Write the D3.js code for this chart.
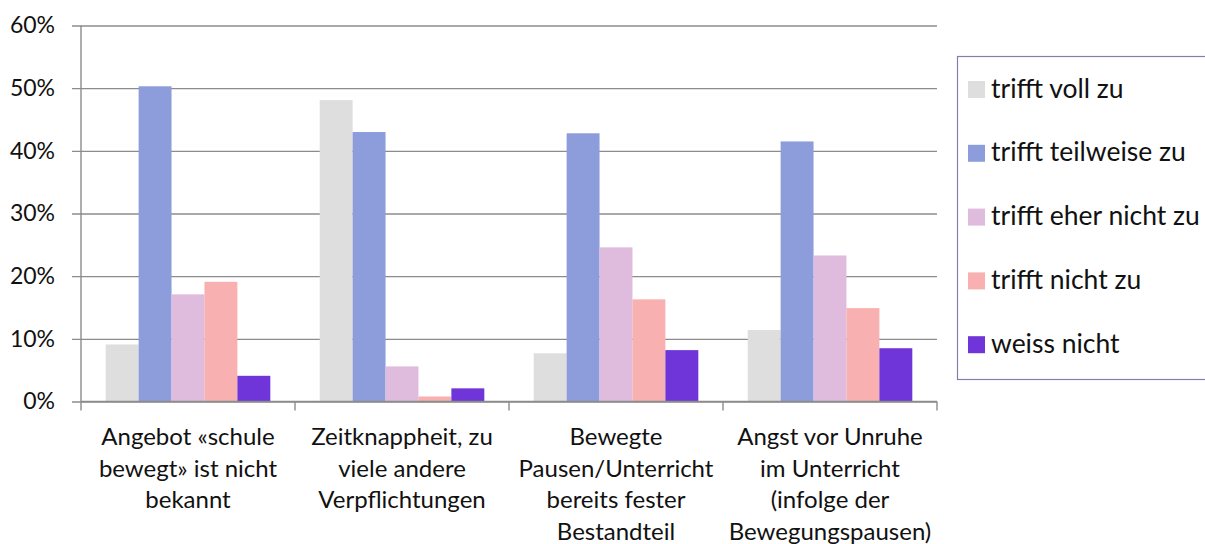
<!DOCTYPE html>
<html><head><meta charset="utf-8">
<script src="https://cdn.jsdelivr.net/npm/d3@7"></script>
<style>body{margin:0;background:#fff}svg{display:block}text{font-family:Lato,"Open Sans",sans-serif;fill:#111}</style>
</head><body><svg id="c" width="1205" height="544"></svg>
<script>
const categories = [
  ["Angebot «schule", "bewegt» ist nicht", "bekannt"],
  ["Zeitknappheit, zu", "viele andere", "Verpflichtungen"],
  ["Bewegte", "Pausen/Unterricht", "bereits fester", "Bestandteil"],
  ["Angst vor Unruhe", "im Unterricht", "(infolge der", "Bewegungspausen)"]
];
const seriesNames = ["trifft voll zu","trifft teilweise zu","trifft eher nicht zu","trifft nicht zu","weiss nicht"];
const seriesColors = ["#dedede","#8d9ddb","#dfbbdd","#f9b0b0","#7035d8"];
const trifftVoll = [9.1, 48.1, 7.7, 11.4];
const trifftTeilweise = [50.3, 43.0, 42.8, 41.5];
const trifftEherNicht = [17.1, 5.6, 24.6, 23.3];
const trifftNicht = [19.1, 0.8, 16.3, 14.9];
const weissNicht = [4.1, 2.1, 8.2, 8.5];
const yTicks = [0,10,20,30,40,50,60];

const series = [trifftVoll, trifftTeilweise, trifftEherNicht, trifftNicht, weissNicht];
const svg = d3.select("#c");
const L = 81, R = 937, T = 25.5, B = 401.5;
const y = d3.scaleLinear().domain([0,60]).range([B,T]);
const x0 = d3.scaleBand().domain(d3.range(categories.length)).range([L,R]).padding(0);
const bw = x0.bandwidth();
const x1 = d3.scaleBand().domain(d3.range(series.length)).range([0,bw]).paddingInner(0).paddingOuter(0.75);

// gridlines
const yAxis = d3.axisLeft(y).tickValues(yTicks).tickSize(-(R-L)).tickFormat(d=>d+"%").tickPadding(26);
const gy = svg.append("g").attr("transform",`translate(${L},0)`).call(yAxis);
gy.select(".domain").remove();
gy.selectAll(".tick line").attr("stroke","#8c8c8c").attr("stroke-width",1.4).attr("x1",-9);
gy.selectAll(".tick text").attr("font-size",23).attr("fill","#111").style("font-family","Lato, 'Open Sans', sans-serif");

// y axis line
svg.append("line").attr("x1",L).attr("x2",L).attr("y1",T).attr("y2",B).attr("stroke","#8c8c8c").attr("stroke-width",1.4);

// bars
const g = svg.append("g");
categories.forEach((c,ci)=>{
  series.forEach((s,si)=>{
    g.append("rect")
      .attr("x", x0(ci)+x1(si))
      .attr("y", y(s[ci]))
      .attr("width", x1.bandwidth())
      .attr("height", B - y(s[ci]))
      .attr("fill", seriesColors[si]);
  });
});

// x axis ticks
const boundaries = d3.range(categories.length+1).map(i=> i<categories.length ? x0(i) : R);
svg.selectAll(".xt").data(boundaries).enter().append("line")
  .attr("x1",d=>d).attr("x2",d=>d).attr("y1",B).attr("y2",B+9)
  .attr("stroke","#8c8c8c").attr("stroke-width",1.4);
svg.append("line").attr("x1",L).attr("x2",R).attr("y1",B).attr("y2",B).attr("stroke","#8c8c8c").attr("stroke-width",1.4);

// x labels
categories.forEach((lines,ci)=>{
  const t = svg.append("text").attr("text-anchor","middle").attr("font-size",24)
    .attr("x", x0(ci)+bw/2);
  lines.forEach((ln,li)=>{
    t.append("tspan").attr("x", x0(ci)+bw/2).attr("y", 445 + li*31.5).text(ln);
  });
});

// legend
svg.append("rect").attr("x",957.5).attr("y",56.5).attr("width",260).attr("height",323)
  .attr("fill","none").attr("stroke","#8080ad").attr("stroke-width",1.2);
seriesNames.forEach((n,i)=>{
  const cy = 89.5 + i*63.8;
  svg.append("rect").attr("x",968).attr("y",cy-8.5).attr("width",17).attr("height",17).attr("fill",seriesColors[i]);
  svg.append("text").attr("x",991).attr("y",cy+8).attr("font-size",26.5).text(n);
});
</script></body></html>
